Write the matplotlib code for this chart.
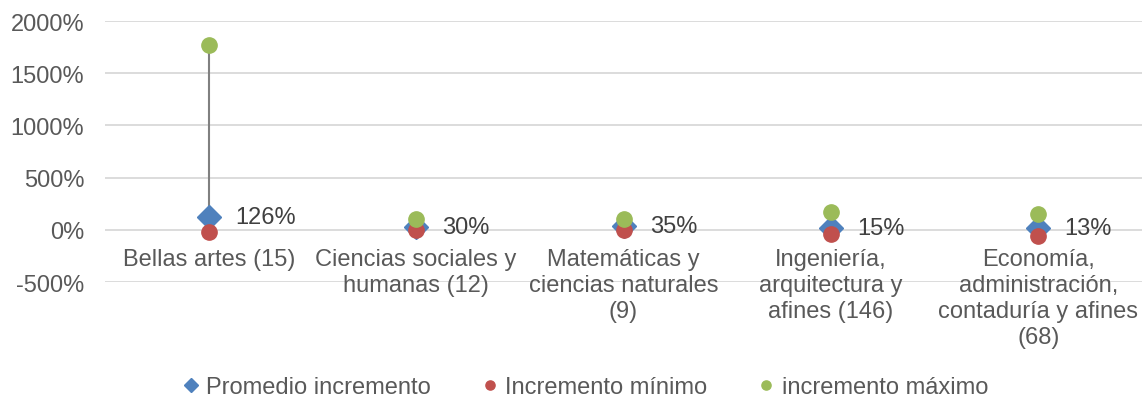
import matplotlib
matplotlib.use("Agg")
import matplotlib.pyplot as plt
import matplotlib.ticker as mticker

plt.rcParams['font.family'] = ['Liberation Sans', 'DejaVu Sans']

# data (percent)
categorias = ["Bellas artes (15)",
              "Ciencias sociales y\nhumanas (12)",
              "Matemáticas y\nciencias naturales\n(9)",
              "Ingeniería,\narquitectura y\nafines (146)",
              "Economía,\nadministración,\ncontaduría y afines\n(68)"]
promedio = [126, 30, 35, 15, 13]
minimo = [-20, -5, -5, -40, -60]
maximo = [1770, 100, 100, 175, 155]

series_names = ["Promedio incremento", "Incremento mínimo", "incremento máximo"]
azul, rojo, verde = "#4F81BD", "#C0504D", "#9BBB59"
gris_txt = "#595959"

fig = plt.figure(figsize=(11.42, 4.02), dpi=100)
ax = fig.add_axes([0.092, 0.296, 0.908, 0.649])

x = list(range(len(categorias)))

# high-low lines
ax.vlines(x, minimo, maximo, color="#808080", lw=1.5, zorder=2)

ax.plot(x, promedio, ls="none", marker="D", ms=12, color=azul, zorder=3, label=series_names[0])
ax.plot(x, minimo, ls="none", marker="o", ms=11, color=rojo, zorder=4, label=series_names[1])
ax.plot(x, maximo, ls="none", marker="o", ms=11, color=verde, zorder=5, label=series_names[2])

for xi, v in zip(x, promedio):
    ax.annotate(f"{v}%", (xi, v), xytext=(19, 0), textcoords="offset points",
                ha="left", va="center", fontsize=17, color="#404040", zorder=6)

for xi, lab in zip(x, categorias):
    ax.annotate(lab, (xi, 0), xytext=(0, -13), textcoords="offset points",
                ha="center", va="top", fontsize=17, color=gris_txt, linespacing=1.24)

ax.set_xlim(-0.5, len(categorias) - 0.5)
ax.set_ylim(-500, 2000)
ax.yaxis.set_major_locator(mticker.MultipleLocator(500))
ax.yaxis.set_major_formatter(mticker.FuncFormatter(lambda v, p: f"{v:.0f}%"))
ax.tick_params(axis="y", length=0, pad=15, labelsize=17, labelcolor=gris_txt)
ax.set_xticks([])
ax.grid(axis="y", color="#D9D9D9", lw=1.3)
ax.set_axisbelow(True)
for s in ax.spines.values():
    s.set_visible(False)

fig.legend(loc="center", bbox_to_anchor=(0.513, 0.035), ncol=3, frameon=False,
           fontsize=17, labelcolor=gris_txt, handlelength=0.6, handletextpad=0.35,
           columnspacing=2.2, markerscale=0.6)

fig.savefig("out.png", dpi=100)
